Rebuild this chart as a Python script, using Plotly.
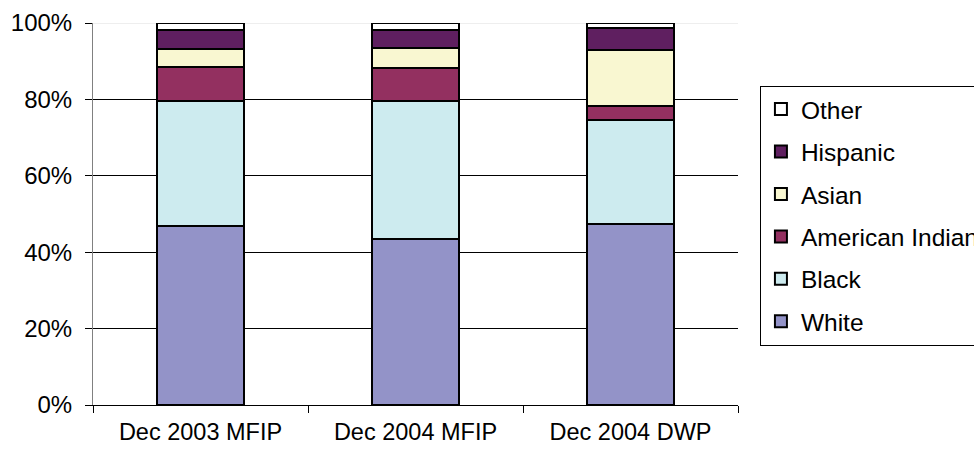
import plotly.graph_objects as go

# Caseload composition by race/ethnicity, percent of cases
categories = ["Dec 2003 MFIP", "Dec 2004 MFIP", "Dec 2004 DWP"]
white = [46.9, 43.4, 47.5]
black = [32.7, 36.2, 27.1]
american_indian = [8.8, 8.7, 3.8]
asian = [4.7, 5.2, 14.6]
hispanic = [5.1, 4.7, 5.6]
other = [1.8, 1.8, 1.4]

series = [
    ("White", white, "#9393C8"),
    ("Black", black, "#CDEBEF"),
    ("American Indian", american_indian, "#933060"),
    ("Asian", asian, "#F9F7D1"),
    ("Hispanic", hispanic, "#5F1F60"),
    ("Other", other, "#FFFFFF"),
]

FONT = "Liberation Sans, Arial, sans-serif"

fig = go.Figure()
for i, (name, vals, color) in enumerate(series):
    fig.add_trace(go.Bar(
        x=categories,
        y=vals,
        name=name,
        legendgroup=name,
        legendrank=len(series) - i,
        marker=dict(color=color, line=dict(color="#000000", width=2)),
    ))

# the top gridline is only a faint frame edge
fig.add_shape(type="line", xref="paper", x0=0, x1=1, yref="y", y0=100, y1=100,
              line=dict(color="#EEEEEE", width=2), layer="below")

fig.update_layout(
    width=974,
    height=453,
    barmode="stack",
    bargap=0.595,
    plot_bgcolor="#FFFFFF",
    paper_bgcolor="#FFFFFF",
    margin=dict(l=93, r=236, t=23, b=48, autoexpand=False),
    font=dict(family=FONT, size=24, color="#000000"),
    showlegend=True,
    legend=dict(
        x=1.034,
        xanchor="left",
        y=0.836,
        yanchor="top",
        traceorder="grouped",
        tracegroupgap=7.6,
        itemwidth=30,
        bordercolor="#000000",
        borderwidth=1,
        bgcolor="#FFFFFF",
        font=dict(family=FONT, size=24.5, color="#000000"),
    ),
    xaxis=dict(
        type="category",
        showline=True,
        linecolor="#000000",
        linewidth=1,
        ticks="outside",
        tickson="boundaries",
        ticklen=7,
        tickcolor="#000000",
        showgrid=False,
        ticklabelstandoff=6,
        tickfont=dict(family=FONT, size=23.5),
    ),
    yaxis=dict(
        range=[0, 100],
        dtick=20,
        ticksuffix="%",
        showline=True,
        linecolor="#808080",
        linewidth=1,
        ticks="outside",
        ticklen=7,
        tickcolor="#000000",
        showgrid=True,
        gridcolor="#000000",
        gridwidth=1,
        zeroline=False,
        ticklabelstandoff=8,
        tickfont=dict(family=FONT, size=24),
    ),
)

fig.write_html("out.html")
